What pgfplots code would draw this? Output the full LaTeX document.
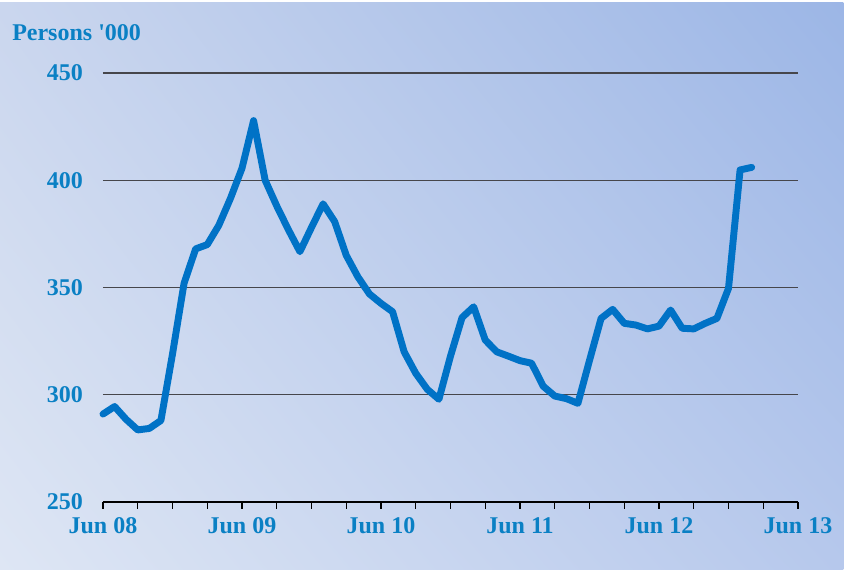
\documentclass[border=0pt]{standalone}
\usepackage{pgfplots}
\pgfplotsset{compat=1.18}
\usetikzlibrary{shadings}
\usepackage{fontspec}
\setmainfont{Liberation Serif}
\definecolor{bgLL}{RGB}{222,230,244}
\definecolor{bgUR}{RGB}{156,182,230}
\definecolor{bgUL}{RGB}{202,214,238}
\definecolor{bgLR}{RGB}{182,200,236}
\definecolor{txtblue}{RGB}{10,128,196}
\definecolor{lineblue}{RGB}{0,114,198}
\definecolor{gridgray}{RGB}{70,70,75}
\begin{document}
\begin{tikzpicture}[x=1pt,y=1pt]
\fill[white] (0,0) rectangle (634.5,426.75);
\shade[lower left=bgLL, upper right=bgUR, upper left=bgUL, lower right=bgLR] (0,0) rectangle (632.5,424.5);
\node[anchor=west, text=txtblue, font=\bfseries\fontsize{18}{20}\selectfont, inner sep=0pt] at (9,402) {Persons \textquotesingle000};
\begin{axis}[
  at={(77.25pt,50.25pt)}, anchor=south west,
  scale only axis, width=521.25pt, height=321.75pt,
  xmin=0, xmax=60, ymin=250, ymax=450,
  axis x line*=bottom, axis y line*=left,
  x axis line style={black, line width=0.9pt, -},
  y axis line style={draw=none},
  xtick={0,12,24,36,48,60},
  xticklabels={Jun 08,Jun 09,Jun 10,Jun 11,Jun 12,Jun 13},
  minor xtick={3,6,9,15,18,21,27,30,33,39,42,45,51,54,57},
  xtick align=outside, major tick length=5pt, minor tick length=5pt,
  xtick style={black, line width=0.8pt},
  ytick style={draw=none},
  ytick={250,300,350,400,450},
  ymajorgrids, major grid style={gridgray, line width=0.9pt},
  xticklabel style={text=txtblue, font=\bfseries\fontsize{18}{20}\selectfont, yshift=-3pt},
  yticklabel style={text=txtblue, font=\bfseries\fontsize{18}{20}\selectfont, xshift=-11.5pt},
  /pgf/number format/assume math mode=true,
  clip=false,
]
\addplot[lineblue, line width=5.2pt, line join=round, line cap=round] coordinates {
(0,291) (1,294.5) (2,288.5) (3,283.6) (4,284.3) (5,288) (6,319) (7,352) (8,368) (9,370)
(10,379) (11,391.5) (12,405.6) (13,427.8) (14,400) (15,388) (16,377) (17,366.7) (18,378) (19,389)
(20,380.7) (21,365) (22,355) (23,347) (24,342.6) (25,338.7) (26,320) (27,310) (28,302.5) (29,297.9)
(30,318) (31,336) (32,341) (33,325.5) (34,320) (35,318) (36,315.9) (37,314.7) (38,304) (39,299.4)
(40,298.2) (41,296) (42,316) (43,335.6) (44,339.8) (45,333.3) (46,332.5) (47,330.7) (48,332) (49,339.5)
(50,331) (51,330.7) (52,333.3) (53,335.6) (54,349.6) (55,404.8) (56,406)
};
\end{axis}
\pgfresetboundingbox
\useasboundingbox (0,0) rectangle (634.5,426.75);
\end{tikzpicture}
\end{document}
